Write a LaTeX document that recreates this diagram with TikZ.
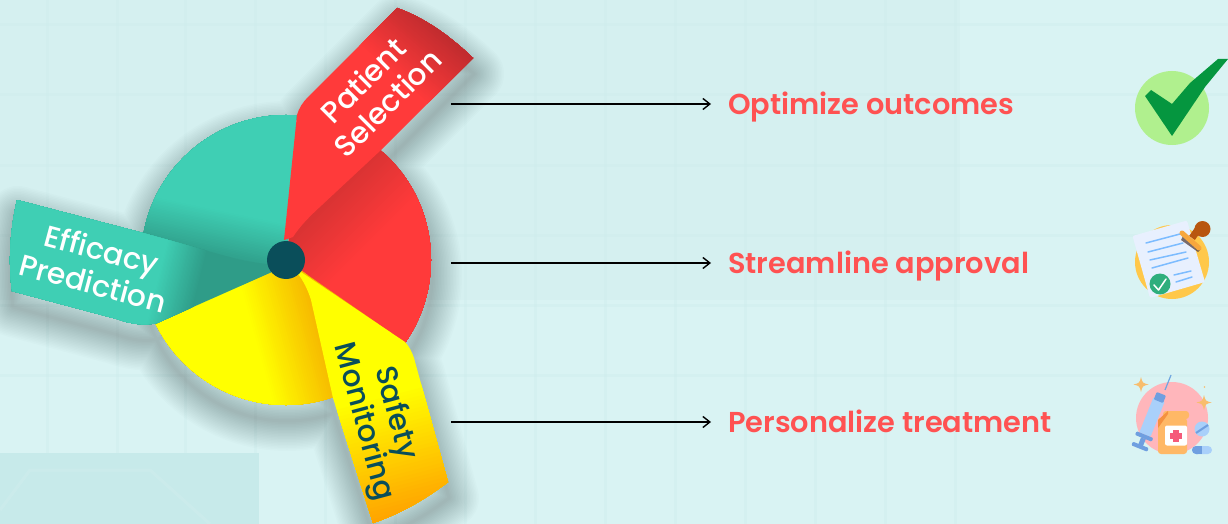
\documentclass[tikz,border=0pt]{standalone}
\usepackage{fontspec}
\setmainfont{Poppins}[BoldFont={Poppins SemiBold}]
\newfontfamily\popm{Poppins Medium}
\usetikzlibrary{arrows.meta,calc}
\definecolor{bgc}{HTML}{D9F3F3}
\definecolor{gridc}{HTML}{CFEDED}
\definecolor{bgd}{HTML}{C7EAEA}
\definecolor{tealc}{HTML}{3FCFB4}
\definecolor{teald}{HTML}{2F9C88}
\definecolor{redc}{HTML}{FF3A3A}
\definecolor{redd}{HTML}{DA3333}
\definecolor{reddd}{HTML}{B82A2D}
\definecolor{yelc}{HTML}{FFFF00}
\definecolor{yeld}{HTML}{F6B500}
\definecolor{orac}{HTML}{FFA500}
\definecolor{hubc}{HTML}{0A4E5A}
\definecolor{labc}{HTML}{FF5252}
\definecolor{HTMLb}{HTML}{B0F08E}
\definecolor{HTMLg}{HTML}{05963F}
\definecolor{HTMLy}{HTML}{FFC84A}
\definecolor{HTMLp}{HTML}{E8F0FE}
\definecolor{HTMLl}{HTML}{7CBCFF}
\definecolor{HTMLe}{HTML}{2FAE7D}
\definecolor{HTMLs}{HTML}{5A4A4A}
\definecolor{HTMLr}{HTML}{B8560F}
\definecolor{HTMLo}{HTML}{F7A73E}
\definecolor{HTMLk}{HTML}{FFB6BB}
\definecolor{HTMLt}{HTML}{F8BD6D}
\definecolor{HTMLn}{HTML}{6FA6E0}
\definecolor{HTMLa}{HTML}{A9D0FA}
\definecolor{HTMLc}{HTML}{6F9FE0}
\definecolor{HTMLm}{HTML}{FFB866}
\definecolor{HTMLq}{HTML}{F59140}
\definecolor{HTMLx}{HTML}{F55A7A}
\tikzset{
  wheel/.style={insert path={(286,260) circle[radius=145]}},
  ribR/.style={insert path={(284,240) -- (297,115) .. controls (299,108) and (303,102) .. (308,97) -- (397,8) .. controls (425,18) and (450,36) .. (473,58) -- (381,150) -- (322,205) .. controls (310,216) and (300,226) .. (293,237) -- cycle}},
  ribT/.style={insert path={(17,200) -- (143,233) -- (233,258) .. controls (245,261) and (256,263) .. (267,264) -- (272,272) -- (157,323) .. controls (145,326) and (130,324) .. (117,319) -- (12,291) .. controls (8,262) and (10,230) .. (17,200) -- cycle}},
  ribY/.style={insert path={(298,270) -- (405,342) .. controls (409,346) and (412,352) .. (414,358) -- (448,482) .. controls (426,499) and (400,514) .. (373,523) -- (333,398) -- (311,300) .. controls (308,290) and (303,280) .. (298,274) -- cycle}},
  secT/.style={insert path={(286,268) -- (300,60) -- (60,60) -- (60,285) -- cycle}},
  secR/.style={insert path={(286,260) -- (312,60) -- (560,60) -- (560,520) -- cycle}},
  secY/.style={insert path={(286,260) -- (560,450) -- (340,560) -- (60,560) -- (60,365) -- cycle}},
  ribbontext/.style={font=\popm\fontsize{29.8}{29.8}\selectfont,text=white,inner sep=0pt,anchor=center},
  outcome/.style={font=\bfseries\fontsize{28.8}{28.8}\selectfont,text=labc,inner sep=0pt,anchor=west,text height=23pt,text depth=2pt},
  conn/.style={draw=black,line width=1.4pt,-{Straight Barb[length=7pt,width=11pt,line width=1.4pt]}},
  blue line/.style={draw=#1,line width=1.5pt,line cap=round},
}
% clip-path style, A(x,y), B(x,y), colour at A, colour at B
\newcommand{\gradfill}[7]{%
  \begin{scope}
    \clip[#1];
    \fill[#6] (-100,-100) rectangle (1400,700);
    \pgfmathsetmacro{\gang}{atan2(-(#5-#3),#4-#2)}
    \pgfmathsetmacro{\glen}{veclen(#4-#2,#5-#3)}
    \begin{scope}[shift={(#2,#3)},rotate=\gang]
      \foreach \i in {0,...,32}{
        \pgfmathtruncatemacro{\gm}{100-\i*100/32}
        \pgfmathsetmacro{\gt}{\i/32*\glen}
        \fill[#6!\gm!#7,draw=none] (\gt,-1200) rectangle (2400,1200);
      }
    \end{scope}
  \end{scope}}
\newcommand{\sparkle}[4]{\fill[#4] (#1,#2-#3) .. controls (#1+0.2*#3,#2-0.2*#3) .. (#1+#3,#2) .. controls (#1+0.2*#3,#2+0.2*#3) .. (#1,#2+#3) .. controls (#1-0.2*#3,#2+0.2*#3) .. (#1-#3,#2) .. controls (#1-0.2*#3,#2-0.2*#3) .. cycle;}
\begin{document}
\begin{tikzpicture}[x=1pt,y=-1pt]
\useasboundingbox (0,0) rectangle (1228,524);
% background
\fill[bgc] (0,0) rectangle (1228,524);
\fill[gridc,opacity=.35] (0,0) rectangle (960,300);
\foreach \gx in {47,117,185,255,325,395,465,535,605,675,745,815,885,955}{\fill[gridc,opacity=.45] (\gx-1.5,0) rectangle (\gx+1.5,524);}
\foreach \gy in {25,95,165,235,305,375}{\fill[gridc,opacity=.45] (0,\gy-1.5) rectangle (1228,\gy+1.5);}
\fill[bgd] (0,453) rectangle (259,524);
\draw[gridc,line width=3pt,opacity=.6] (0,510) -- (30,470) -- (150,470) -- (210,524);
% soft shadow
\begin{scope}[shift={(1,16)}]
\foreach \w in {60,57,...,3}{
  \draw[wheel,ribR,ribT,ribY,draw=black,line width=\w pt,draw opacity=.0125,line join=round];
}
\end{scope}
% wheel sectors
\begin{scope}
  \clip[wheel];
  \gradfill{secR}{320}{210}{362}{252}{redd}{redc}
  \gradfill{secT}{225}{262}{235}{214}{teald}{tealc}
  \gradfill{secY}{315}{300}{250}{318}{yeld}{yelc}
\end{scope}
% ribbons
\gradfill{ribT}{205}{262}{165}{252}{teald}{tealc}
\gradfill{ribR}{405}{85}{452}{30}{redc}{reddd}
\gradfill{ribY}{378}{395}{408}{510}{yelc}{orac}
\fill[hubc] (286,260) circle[radius=19];
% ribbon labels
\node[ribbontext,rotate=45] (patient) at (363,80) {Patient};
\node[ribbontext,rotate=45] (selection) at (387,103) {Selection};
\node[ribbontext,rotate=-15] (efficacy) at (101,253) {Efficacy};
\node[ribbontext,rotate=-15] (prediction) at (93,283) {Prediction};
\node[ribbontext,rotate=-75,text=hubc] (safety) at (395,413) {Safety};
\node[ribbontext,rotate=-75,text=hubc] (monitoring) at (363,422) {Monitoring};
% outcomes and connectors
\node[outcome] (o1) at (728,104) {Optimize outcomes};
\node[outcome] (o2) at (728,263) {Streamline approval};
\node[outcome] (o3) at (728,422) {Personalize treatment};
\coordinate (s1) at (451,104);
\coordinate (s2) at (451,263);
\coordinate (s3) at (451,422);
\draw[conn] (s1) -- ([xshift=-17pt]o1.west);
\draw[conn] (s2) -- ([xshift=-17pt]o2.west);
\draw[conn] (s3) -- ([xshift=-17pt]o3.west);
% check icon
\fill[HTMLb] (1172,108) circle[radius=37];
\fill[HTMLg] (1145,96) -- (1151,90) -- (1172,104) -- (1190,83) -- (1218,59) -- (1228,59) -- (1205,87) -- (1172,136) -- cycle;
% document icon
\fill[HTMLy] (1172,262) circle[radius=37];
\fill[HTMLp,rounded corners=2pt] (1132.5,236) -- (1187,220.5) -- (1205,282) -- (1150,298) -- cycle;
\foreach \ax/\ay/\bx/\by in {1146/243/1180/234,1148/252/1183/243,1150/260/1186/252,1152/268/1188/258,1174/275/1191/271,1176/282/1192/277}{
  \draw[blue line=HTMLl] (\ax,\ay) -- (\bx,\by);}
\fill[HTMLe] (1160,284) circle[radius=10.5];
\draw[white,line width=1.5pt,line cap=round,line join=round] (1154,285) -- (1158.5,290) -- (1166,279);
\fill[HTMLs,opacity=.8] (1181,240) -- (1184,234) -- (1201,249) -- (1198,252) -- cycle;
\draw[HTMLr,line width=7pt] (1192,238) -- (1199,228);
\fill[HTMLr] (1202.5,229) circle[radius=8];
\draw[HTMLo,line width=5pt,line cap=round] (1182,233) -- (1199,248);
% syringe icon
\fill[HTMLk] (1172,418) circle[radius=36];
\sparkle{1141}{384.5}{7.5}{HTMLt}
\sparkle{1204}{402.5}{7.5}{HTMLt}
\fill[HTMLt] (1204.5,387) circle[radius=.8];
\draw[HTMLn,line width=1.2pt] (1165,390) -- (1171,375);
\begin{scope}[shift={(1152,417)},rotate=68]
  \fill[HTMLa,rounded corners=1pt] (-19,-6) rectangle (19,6);
  \fill[HTMLc,rounded corners=1pt] (17,-5) rectangle (25,5);
  \fill[HTMLc,rounded corners=1pt] (-23,-9) rectangle (-19,9);
  \fill[HTMLc] (-31,-2.5) rectangle (-23,2.5);
  \fill[HTMLc,rounded corners=1pt] (-34,-8.5) rectangle (-30,8.5);
\end{scope}
\fill[HTMLm,rounded corners=3pt] (1158,418) rectangle (1187,454);
\fill[HTMLm,rounded corners=3pt] (1163,411) rectangle (1189,419);
\fill[HTMLq] (1158,428) -- (1158,420) -- (1168,411) -- (1168,414) -- cycle;
\fill[white,rounded corners=2pt] (1165,425.5) rectangle (1187,445.5);
\fill[HTMLx] (1170,433) rectangle (1182,439);
\fill[HTMLx] (1173,430) rectangle (1179,442);
\fill[HTMLa] (1202,429) circle[radius=7.5];
\draw[HTMLc,line width=2pt] (1196,433) -- (1208,425);
\fill[HTMLa,rounded corners=4pt] (1192,446) rectangle (1212,454);
\fill[HTMLc,rounded corners=4pt] (1192,446) rectangle (1202,454);
\fill[HTMLc] (1198,446) rectangle (1202,454);
\end{tikzpicture}
\end{document}
